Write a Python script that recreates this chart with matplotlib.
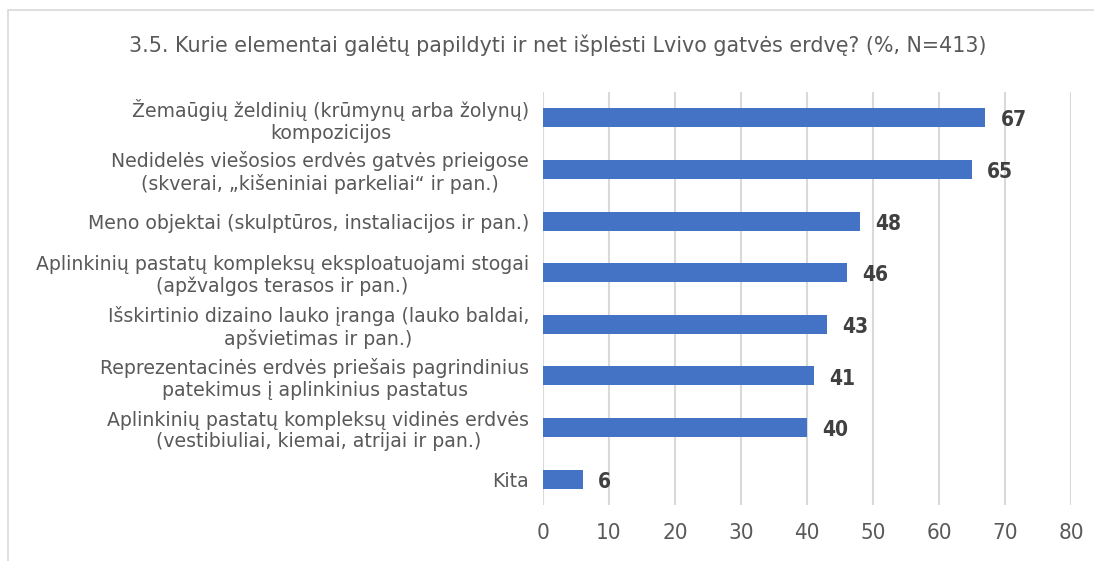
import matplotlib.pyplot as plt
from matplotlib.patches import Rectangle

plt.rcParams["font.family"] = ["DejaVu Sans"]

categories = [
    "Žemaūgių želdinių (krūmynų arba žolynų)\nkompozicijos",
    "Nedidelės viešosios erdvės gatvės prieigose\n(skverai, „kišeniniai parkeliai“ ir pan.)",
    "Meno objektai (skulptūros, instaliacijos ir pan.)",
    "Aplinkinių pastatų kompleksų eksploatuojami stogai\n(apžvalgos terasos ir pan.)",
    "Išskirtinio dizaino lauko įranga (lauko baldai,\napšvietimas ir pan.)",
    "Reprezentacinės erdvės priešais pagrindinius\npatekimus į aplinkinius pastatus",
    "Aplinkinių pastatų kompleksų vidinės erdvės\n(vestibiuliai, kiemai, atrijai ir pan.)",
    "Kita",
]
values = [67, 65, 48, 46, 43, 41, 40, 6]
xticks = [0, 10, 20, 30, 40, 50, 60, 70, 80]
title = "3.5. Kurie elementai galėtų papildyti ir net išplėsti Lvivo gatvės erdvę? (%, N=413)"

bar_color = "#4472C4"
text_gray = "#595959"

fig = plt.figure(figsize=(10.94, 5.61), dpi=100)
ax = fig.add_axes([0.4963, 0.0998, 0.979 - 0.4963, 0.836 - 0.0998])

pos = list(range(len(categories)))
ax.barh(pos, values, height=0.37, color=bar_color, zorder=3)
for p, v in zip(pos, values):
    ax.text(v + 2.3, p + 0.05, str(v), va="center", ha="left",
            fontsize=15, fontstretch="condensed", fontweight="bold",
            color="#404040")

ax.set_ylim(len(categories) - 0.5, -0.5)
ax.set_xlim(0, 80)
ax.set_xticks(xticks)
ax.set_xticklabels([str(t) for t in xticks], fontsize=16,
                   fontstretch="condensed", color=text_gray)
ax.set_yticks(pos)
ax.set_yticklabels(categories, fontsize=13.6, color=text_gray,
                   multialignment="center", linespacing=1.15)
ax.tick_params(axis="both", length=0)
ax.tick_params(axis="y", pad=10)
ax.tick_params(axis="x", pad=13)
ax.grid(axis="x", color="#d9d9d9", linewidth=1.5, zorder=0)
for s in ax.spines.values():
    s.set_visible(False)

fig.text(558 / 1094, 1 - 45 / 561, title, ha="center", va="center",
         fontsize=14.9, color=text_gray)

fig.patches.append(Rectangle((7.5 / 1094, -0.1), 1.2, 1 - 10 / 561 + 0.1,
                             transform=fig.transFigure, fill=False,
                             edgecolor="#d9d9d9", linewidth=1.2))

fig.savefig("out.png", dpi=100)
